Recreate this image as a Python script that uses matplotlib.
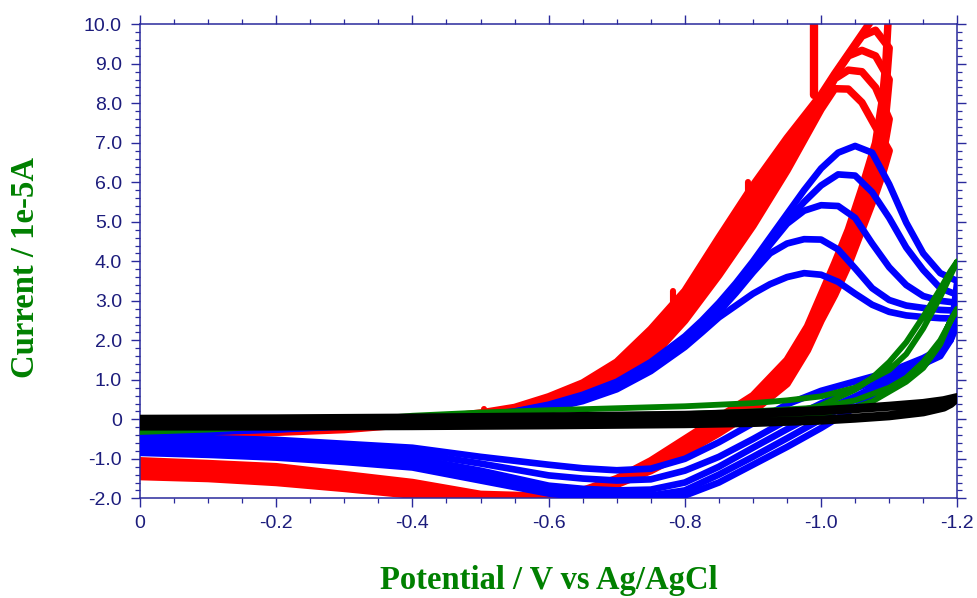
import numpy as np
import matplotlib
matplotlib.use("Agg")
import matplotlib.pyplot as plt
from matplotlib.ticker import MultipleLocator, FuncFormatter

# ---- data (potential in V, current in 1e-5 A) ----

# blue cycles: forward scan 0 -> -1.2 V
blue_fwd_x = [0, -0.1, -0.2, -0.3, -0.4, -0.5, -0.55, -0.6, -0.65, -0.7, -0.75, -0.8, -0.825,
              -0.85, -0.875, -0.9, -0.925, -0.95, -0.975, -1.0, -1.025, -1.05, -1.075, -1.1,
              -1.125, -1.15, -1.175, -1.2]
blue_fwd = [
    [-0.35, -0.28, -0.22, -0.14, -0.04, 0.1, 0.2, 0.37, 0.62, 0.95, 1.45, 2.1, 2.5, 2.95, 3.45,
     4.0, 4.6, 5.2, 5.8, 6.35, 6.75, 6.92, 6.75, 5.95, 4.98, 4.2, 3.7, 3.5],
    [-0.37, -0.29, -0.23, -0.15, -0.05, 0.09, 0.19, 0.35, 0.59, 0.92, 1.42, 2.05, 2.45, 2.9, 3.38,
     3.92, 4.48, 5.02, 5.5, 5.92, 6.2, 6.17, 5.75, 5.1, 4.35, 3.78, 3.32, 3.15],
    [-0.39, -0.3, -0.24, -0.16, -0.06, 0.08, 0.18, 0.33, 0.56, 0.89, 1.38, 2.0, 2.4, 2.85, 3.32,
     3.85, 4.42, 4.95, 5.28, 5.42, 5.4, 5.1, 4.45, 3.85, 3.4, 3.12, 3.0, 2.95],
    [-0.41, -0.31, -0.25, -0.17, -0.07, 0.07, 0.16, 0.3, 0.52, 0.84, 1.32, 1.93, 2.3, 2.72, 3.2,
     3.72, 4.2, 4.45, 4.56, 4.55, 4.3, 3.82, 3.32, 3.02, 2.88, 2.82, 2.77, 2.75],
    [-0.43, -0.32, -0.26, -0.18, -0.08, 0.05, 0.14, 0.26, 0.46, 0.76, 1.22, 1.83, 2.2, 2.58, 2.88,
     3.18, 3.42, 3.6, 3.7, 3.66, 3.48, 3.18, 2.9, 2.72, 2.63, 2.59, 2.56, 2.55],
]
# blue cycles: return scan -1.2 -> 0 V
blue_rev_x = [-1.195, -1.19, -1.175, -1.15, -1.1, -1.05, -1.0, -0.95, -0.9, -0.85, -0.8, -0.75,
              -0.7, -0.65, -0.6, -0.5, -0.4, -0.3, -0.2, -0.1, 0]
blue_rev = [
    [2.8, 2.2, 1.75, 1.35, 0.85, 0.3, -0.22, -0.7, -1.15, -1.6, -1.93, -2.02, -2.0, -1.97, -1.88,
     -1.55, -1.22, -1.08, -0.97, -0.9, -0.85],
    [2.6, 2.15, 1.72, 1.4, 0.95, 0.5, 0.0, -0.48, -0.95, -1.4, -1.8, -1.93, -1.92, -1.88, -1.8,
     -1.45, -1.1, -0.96, -0.86, -0.8, -0.75],
    [2.5, 2.1, 1.7, 1.4, 0.98, 0.58, 0.2, -0.25, -0.72, -1.2, -1.6, -1.78, -1.8, -1.76, -1.68,
     -1.3, -0.98, -0.85, -0.75, -0.7, -0.65],
    [2.3, 2.0, 1.6, 1.4, 1.08, 0.78, 0.4, -0.02, -0.5, -0.95, -1.3, -1.52, -1.55, -1.5, -1.42,
     -1.12, -0.85, -0.74, -0.65, -0.6, -0.55],
    [2.2, 2.0, 1.78, 1.55, 1.2, 0.96, 0.72, 0.38, -0.1, -0.58, -1.0, -1.25, -1.29, -1.24, -1.15,
     -0.95, -0.72, -0.62, -0.52, -0.48, -0.45],
]

# red cycles: forward scan 0 -> -1.1 V
red_fwd_x = [0, -0.1, -0.2, -0.3, -0.4, -0.5, -0.55, -0.6, -0.65, -0.7, -0.75, -0.8, -0.85,
             -0.9, -0.95, -1.0, -1.02, -1.04, -1.06, -1.08, -1.1]
red_fwd = [
    [-0.5, -0.4, -0.33, -0.26, -0.12, 0.08, 0.17, 0.33, 0.6, 0.95, 1.55, 2.5, 3.65, 4.9, 6.3,
     7.85, 8.37, 8.36, 8.02, 7.4, 6.8],
    [-0.48, -0.38, -0.31, -0.24, -0.1, 0.1, 0.2, 0.39, 0.68, 1.07, 1.72, 2.7, 3.9, 5.2, 6.52,
     7.98, 8.62, 8.84, 8.8, 8.4, 7.6],
    [-0.46, -0.36, -0.29, -0.22, -0.08, 0.12, 0.23, 0.45, 0.76, 1.2, 1.9, 2.88, 4.12, 5.45, 6.72,
     8.08, 8.7, 9.2, 9.34, 9.2, 8.6],
    [-0.44, -0.34, -0.27, -0.2, -0.06, 0.14, 0.26, 0.51, 0.84, 1.32, 2.08, 3.06, 4.35, 5.68, 6.92,
     8.15, 8.72, 9.22, 9.7, 9.85, 9.4],
    [-0.42, -0.32, -0.25, -0.18, -0.04, 0.16, 0.3, 0.57, 0.92, 1.45, 2.28, 3.25, 4.6, 5.92, 7.12,
     8.22, 8.75, 9.25, 9.75, 10.25, 10.6],
]
# red cycles: return scan -1.1 -> 0 V
red_rev_x = [-1.095, -1.09, -1.08, -1.06, -1.04, -1.02, -1.0, -0.98, -0.95, -0.9, -0.85, -0.8,
             -0.75, -0.7, -0.65, -0.6, -0.5, -0.4, -0.3, -0.2, -0.1, 0]
red_rev = [
    [6.5, 6.2, 5.7, 4.8, 3.9, 3.15, 2.5, 1.75, 0.9, 0.2, -0.35, -0.85, -1.3, -1.65, -1.85, -1.95,
     -1.9, -1.6, -1.4, -1.2, -1.12, -1.05],
    [7.1, 6.7, 6.1, 5.1, 4.15, 3.35, 2.7, 1.9, 1.05, 0.3, -0.25, -0.75, -1.25, -1.62, -1.85,
     -1.95, -1.95, -1.7, -1.5, -1.32, -1.22, -1.15],
    [7.7, 7.1, 6.4, 5.35, 4.4, 3.55, 2.85, 2.05, 1.2, 0.4, -0.15, -0.65, -1.15, -1.58, -1.83,
     -1.96, -2.0, -1.78, -1.58, -1.42, -1.3, -1.25],
    [8.3, 7.6, 6.7, 5.6, 4.6, 3.75, 3.0, 2.2, 1.35, 0.5, -0.05, -0.6, -1.1, -1.55, -1.82, -1.97,
     -2.05, -1.85, -1.65, -1.5, -1.4, -1.35],
    [9.0, 8.1, 7.0, 5.85, 4.8, 3.95, 3.15, 2.35, 1.5, 0.6, 0.05, -0.5, -1.05, -1.5, -1.8, -1.98,
     -2.1, -1.92, -1.75, -1.6, -1.5, -1.45],
]
# short vertical glitches on the red traces
red_spike_x = [-0.505, -0.783, -0.893, -0.99]
red_spike_lo = [0.1, 2.65, 5.6, 8.2]
red_spike_hi = [0.26, 3.25, 6.0, 10.3]

# green cycles
green_fwd_x = [0, -0.1, -0.2, -0.3, -0.4, -0.5, -0.6, -0.7, -0.8, -0.9, -0.95, -1.0, -1.05,
               -1.1, -1.125, -1.15, -1.175, -1.2]
green_fwd = [
    [-0.32, -0.26, -0.17, -0.05, 0.09, 0.17, 0.23, 0.28, 0.33, 0.41, 0.48, 0.58, 0.8, 1.25, 1.65,
     2.3, 3.1, 4.0],
    [-0.3, -0.24, -0.15, -0.06, 0.02, 0.06, 0.08, 0.1, 0.13, 0.2, 0.25, 0.3, 0.48, 0.8, 1.05,
     1.45, 2.0, 2.8],
]
green_rev_x = [-1.19, -1.175, -1.15, -1.125, -1.1, -1.075, -1.05, -1.0, -0.95, -0.9, -0.8,
               -0.6, -0.4, -0.2, 0]
green_rev = [
    [3.75, 3.3, 2.6, 1.95, 1.45, 1.05, 0.75, 0.35, 0.15, 0.06, 0.0, -0.04, -0.07, -0.08, -0.1],
    [2.5, 1.9, 1.3, 0.95, 0.7, 0.45, 0.3, 0.14, 0.07, 0.03, -0.02, -0.06, -0.08, -0.09, -0.1],
]

# black (blank) cycle
black_fwd_x = [0, -0.2, -0.4, -0.6, -0.8, -0.9, -1.0, -1.05, -1.1, -1.15, -1.18, -1.2]
black_fwd = [0.0, 0.01, 0.03, 0.06, 0.1, 0.15, 0.22, 0.27, 0.33, 0.4, 0.47, 0.55]
black_rev_x = [-1.19, -1.18, -1.15, -1.1, -1.05, -1.0, -0.9, -0.8, -0.6, -0.4, -0.2, 0]
black_rev = [0.4, 0.31, 0.19, 0.09, 0.03, -0.02, -0.08, -0.11, -0.14, -0.16, -0.17, -0.17]

navy = '#2a2a9c'
label_navy = '#1c1c7c'
dgreen = '#008000'

fig = plt.figure(figsize=(9.77, 5.98), dpi=100)
ax = fig.add_axes([140 / 977, (598 - 498.3) / 598, (957.3 - 140) / 977, (498.3 - 24.3) / 598])

def cycle(ax, fx, fy, rx, ry, color, z, lw):
    ax.plot(list(fx) + list(rx), list(fy) + list(ry), color=color, lw=lw,
            solid_capstyle='round', solid_joinstyle='round', zorder=z)

for fy, ry in zip(red_fwd, red_rev):
    cycle(ax, red_fwd_x, fy, red_rev_x, ry, '#ff0000', 2, 5.4)
for sx, lo, hi in zip(red_spike_x, red_spike_lo, red_spike_hi):
    ax.plot([sx, sx], [lo, hi], color='#ff0000', lw=6.0 if hi > 10 else 4.4,
            solid_capstyle='round', zorder=2)

for fy, ry in zip(blue_fwd, blue_rev):
    cycle(ax, blue_fwd_x, fy, blue_rev_x, ry, '#0000ff', 3, 4.8)

for fy, ry in zip(green_fwd, green_rev):
    cycle(ax, green_fwd_x, fy, green_rev_x, ry, dgreen, 4, 4.2)

cycle(ax, black_fwd_x, black_fwd, black_rev_x, black_rev, '#000000', 5, 6.6)

ax.set_xlim(0, -1.2)
ax.set_ylim(-2, 10)

ax.xaxis.set_major_locator(MultipleLocator(0.2))
ax.xaxis.set_minor_locator(MultipleLocator(0.05))
ax.yaxis.set_major_locator(MultipleLocator(1.0))
ax.yaxis.set_minor_locator(MultipleLocator(0.2))
fmt = FuncFormatter(lambda v, p: '0' if abs(v) < 1e-9 else '%.1f' % v)
ax.xaxis.set_major_formatter(fmt)
ax.yaxis.set_major_formatter(fmt)

ax.tick_params(which='both', direction='out', top=True, right=True, color=navy,
               labelcolor=label_navy, labelsize=14)
ax.tick_params(which='major', length=6.5, width=1.0)
ax.tick_params(which='minor', length=3.6, width=0.9)
ax.tick_params(axis='x', which='major', pad=5.5)
ax.tick_params(axis='y', which='major', pad=6.5)
for lab in ax.get_xticklabels() + ax.get_yticklabels():
    lab.set_fontfamily('Liberation Sans')
for sp in ax.spines.values():
    sp.set_color(navy)
    sp.set_linewidth(1.1)

fig.text(549 / 977, 9 / 598, 'Potential / V vs Ag/AgCl', ha='center', va='baseline',
         color=dgreen, fontsize=23.5, fontweight='bold', family='Liberation Serif')
fig.text(34 / 977, (598 - 267) / 598, 'Current / 1e-5A', ha='center', va='baseline',
         rotation=90, rotation_mode='anchor', color=dgreen, fontsize=23.5,
         fontweight='bold', family='Liberation Serif')

fig.savefig('out.png', dpi=100)
